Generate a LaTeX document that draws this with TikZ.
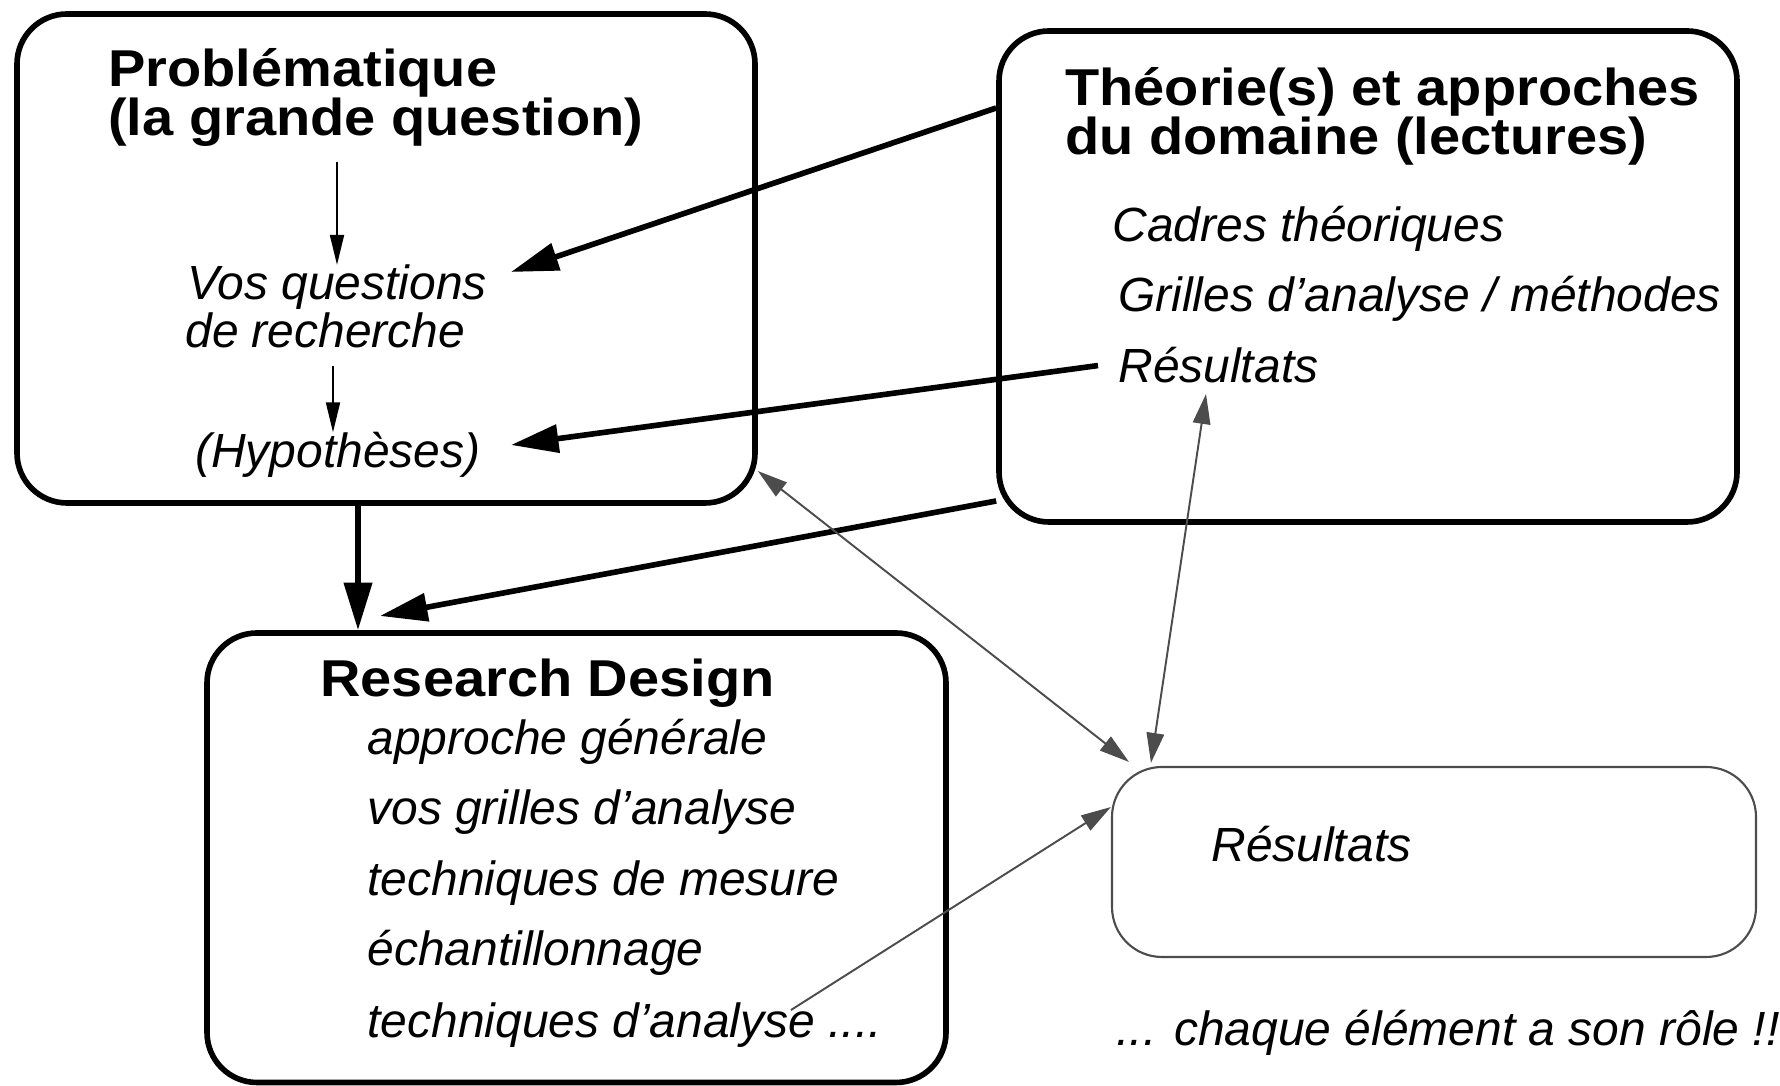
\documentclass[tikz,border=0pt]{standalone}
\usepackage{fontspec}
\setmainfont{Liberation Sans}
\newfontfamily\titrefont[FakeStretch=1.08]{Liberation Sans}
\usetikzlibrary{arrows.meta}
\tikzset{
  bigbox/.style={draw,line width=3.2pt,rounded corners=1cm,inner sep=0pt},
  resbox/.style={draw=black!70,line width=1.2pt,rounded corners=1cm,inner sep=0pt},
  titre/.style={anchor=base west,inner sep=0pt,font=\titrefont\fontsize{29.5}{36}\selectfont\bfseries},
  item/.style={anchor=base west,inner sep=0pt,font=\fontsize{27.3}{33}\selectfont\itshape},
  bigarrow/.style={line width=3.2pt,-{Triangle[length=0.95cm,width=0.55cm]}},
  smallarrow/.style={line width=1.1pt,-{Triangle[length=0.6cm,width=0.28cm]}},
  grayarrow/.style={draw=black!70,line width=1.1pt,{Triangle[length=0.6cm,width=0.35cm]}-{Triangle[length=0.6cm,width=0.35cm]}},
  grayone/.style={draw=black!70,line width=1.1pt,-{Triangle[length=0.6cm,width=0.35cm]}}
}
\begin{document}
\begin{tikzpicture}
            \useasboundingbox (0,0) rectangle (35.6,21.72);
            \node[bigbox,minimum width=14.76cm,minimum height=9.78cm] (prob) at (7.72,16.55) {};
            \node[bigbox,minimum width=14.76cm,minimum height=9.82cm] (theo) at (27.36,16.19) {};
            \node[bigbox,minimum width=14.78cm,minimum height=8.99cm] (desg) at (11.53,4.565) {};
            \node[resbox,minimum width=12.88cm,minimum height=3.8cm] (resbox) at (28.68,4.48) {};

            \node[titre] (probA) at (2.16,19.99) {Problématique};
            \node[titre] (probB) at (2.16,19.01) {(la grande question)};
            \node[item] (vosq) at (3.74,15.72) {Vos questions};
            \node[item] (rech) at (3.70,14.76) {de recherche};
            \node[item] (hyp) at (3.90,12.36) {(Hypothèses)};
            \coordinate (qstart) at (6.74,18.48);
            \coordinate (hstart) at (6.66,14.4);
            \draw[smallarrow] (qstart) -- (vosq.north -| qstart);
            \draw[smallarrow] (hstart) -- (hyp.north -| hstart);

            \node[titre] (theoA) at (21.3,19.61) {Théorie(s) et approches};
            \node[titre] (theoB) at (21.3,18.63) {du domaine (lectures)};
            \node[item] (cadr) at (22.24,16.88) {Cadres théoriques};
            \node[item] (gril) at (22.36,15.48) {Grilles d’analyse / méthodes};
            \node[item] (res) at (22.36,14.06) {Résultats};

            \node[titre] (desgA) at (6.4,7.78) {Research Design};
            \node[item] (appr) at (7.34,6.62) {approche générale};
            \node[item] (vosg) at (7.34,5.22) {vos grilles d’analyse};
            \node[item] (mesu) at (7.34,3.80) {techniques de mesure};
            \node[item] (echa) at (7.34,2.40) {échantillonnage};
            \node[item] (anal) at (7.34,0.96) {techniques d’analyse ....};

            \node[item] (resfin) at (24.22,4.48) {Résultats};
            \node[item] (role) at (22.32,0.80) {... chaque élément a son rôle !!};

            \coordinate (qtip) at (10.22,16.28);
            \coordinate (htip) at (10.22,12.82);
            \coordinate (dtip) at (7.6,9.4);
            \coordinate (gstart) at (15.82,1.52);

            \draw[bigarrow] (theo.west |- 0,19.56) -- (qtip);
            \draw[bigarrow] ([xshift=-0.4cm]res.west) -- (htip);
            \draw[bigarrow] (theo.west |- 0,11.7) -- (dtip);
            \draw[bigarrow] (prob.south -| 7.16,0) -- (desg.north -| 7.16,0);

            \draw[grayarrow] (prob.east |- 0,12.3) -- ([xshift=0.36cm,yshift=0.08cm]resbox.north west);
            \draw[grayarrow] ([xshift=1.76cm,yshift=-0.22cm]res.base west) -- ([xshift=0.8cm,yshift=0.06cm]resbox.north west);
            \draw[grayone] (gstart) -- (resbox.west |- 0,5.58);
\end{tikzpicture}
\end{document}
